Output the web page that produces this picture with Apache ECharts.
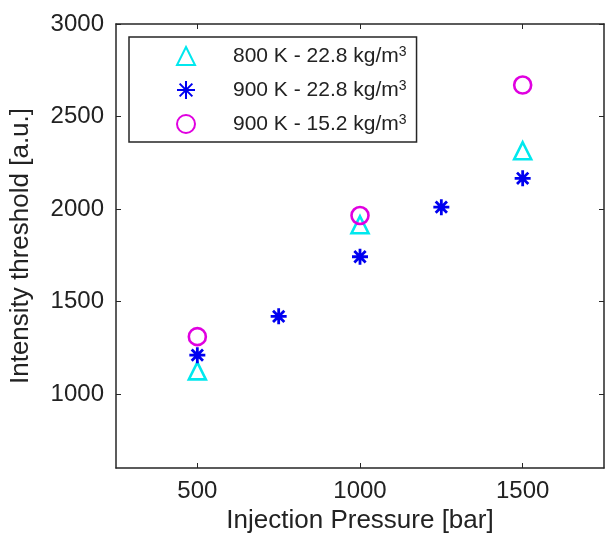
<!DOCTYPE html>
<html>
<head>
<meta charset="utf-8">
<script src="https://cdn.jsdelivr.net/npm/echarts@6/dist/echarts.min.js"></script>
<style>
  html, body { margin: 0; padding: 0; background: #fff; }
  #chart { width: 605px; height: 540px; }
</style>
</head>
<body>
<div id="chart"></div>
<script>
// Injection pressure [bar] vs. intensity threshold [a.u.]
const seriesNames = ['800 K - 22.8 kg/m3', '900 K - 22.8 kg/m3', '900 K - 15.2 kg/m3'];

const pressure800_228 = [500, 1000, 1500];
const threshold800_228 = [1125, 1915, 2315];

const pressure900_228 = [500, 750, 1000, 1250, 1500];
const threshold900_228 = [1210, 1420, 1742, 2010, 2166];

const pressure900_152 = [500, 1000, 1500];
const threshold900_152 = [1310, 1965, 2670];

const xTicks = [500, 1000, 1500];
const yTicks = [1000, 1500, 2000, 2500, 3000];

const pairs = (xs, ys) => xs.map((x, i) => [x, ys[i]]);

const FONT = '"Liberation Sans", Arial, sans-serif';
const AXIS_COLOR = '#262626';
const CYAN = '#00e8ee';
const BLUE = '#0000f0';
const MAGENTA = '#e000e0';
const ASTERISK = 'path://M0,-10L0,10M-10,0L10,0M-7.07,-7.07L7.07,7.07M-7.07,7.07L7.07,-7.07';

const grid = { left: 116, top: 24, width: 488, height: 444 };

const plainNumber = (v) => String(v);

const baseAxis = {
  type: 'value',
  axisLine: { show: true, lineStyle: { color: AXIS_COLOR, width: 1.5 } },
  splitLine: { show: false }
};

const chart = echarts.init(document.getElementById('chart'), null, { renderer: 'canvas' });

chart.setOption({
  animation: false,
  backgroundColor: '#ffffff',
  grid: grid,
  xAxis: [
    Object.assign({}, baseAxis, {
      position: 'bottom',
      min: 250, max: 1750,
      name: 'Injection Pressure [bar]',
      nameLocation: 'middle',
      nameGap: 40,
      nameTextStyle: { fontFamily: FONT, fontSize: 26, color: '#222' },
      axisTick: { show: true, inside: true, length: 5, customValues: xTicks, lineStyle: { color: AXIS_COLOR } },
      axisLabel: { show: true, customValues: xTicks, formatter: plainNumber, margin: 11, fontFamily: FONT, fontSize: 24, color: '#222' }
    }),
    Object.assign({}, baseAxis, {
      position: 'top',
      min: 250, max: 1750,
      axisTick: { show: true, inside: true, length: 5, customValues: xTicks, lineStyle: { color: AXIS_COLOR } },
      axisLabel: { show: false }
    })
  ],
  yAxis: [
    Object.assign({}, baseAxis, {
      position: 'left',
      min: 600, max: 3000,
      name: 'Intensity threshold [a.u.]',
      nameLocation: 'middle',
      nameGap: 82,
      nameTextStyle: { fontFamily: FONT, fontSize: 26, color: '#222' },
      axisTick: { show: true, inside: true, length: 5, customValues: yTicks, lineStyle: { color: AXIS_COLOR } },
      axisLabel: { show: true, customValues: yTicks, formatter: plainNumber, margin: 12, fontFamily: FONT, fontSize: 24, color: '#222' }
    }),
    Object.assign({}, baseAxis, {
      position: 'right',
      min: 600, max: 3000,
      axisTick: { show: true, inside: true, length: 5, customValues: yTicks, lineStyle: { color: AXIS_COLOR } },
      axisLabel: { show: false }
    })
  ],
  legend: {
    show: true,
    orient: 'vertical',
    left: 129,
    top: 37,
    padding: [8, 10, 7, 47],
    itemGap: 12,
    itemWidth: 18,
    itemHeight: 18,
    backgroundColor: '#ffffff',
    borderColor: AXIS_COLOR,
    borderWidth: 1.5,
    data: seriesNames,
    formatter: (name) => '{t|' + name.slice(0, -1) + '}{sup|3}',
    textStyle: {
      fontFamily: FONT,
      fontSize: 21,
      color: '#222',
      padding: [0, 0, 0, 33],
      rich: {
        t: { fontFamily: FONT, fontSize: 21, color: '#222', lineHeight: 22, verticalAlign: 'bottom' },
        sup: { fontFamily: FONT, fontSize: 14, color: '#222', lineHeight: 12, verticalAlign: 'top' }
      }
    }
  },
  series: [
    {
      name: seriesNames[0],
      type: 'scatter',
      data: pairs(pressure800_228, threshold800_228),
      symbol: 'triangle',
      symbolSize: 17,
      itemStyle: { color: 'rgba(255,255,255,0)', borderColor: CYAN, borderWidth: 2.6, opacity: 1 },
      z: 3
    },
    {
      name: seriesNames[1],
      type: 'scatter',
      data: pairs(pressure900_228, threshold900_228),
      symbol: ASTERISK,
      symbolSize: 16,
      itemStyle: { color: 'rgba(255,255,255,0)', borderColor: BLUE, borderWidth: 2.8, opacity: 1 },
      z: 4
    },
    {
      name: seriesNames[2],
      type: 'scatter',
      data: pairs(pressure900_152, threshold900_152),
      symbol: 'circle',
      symbolSize: 17,
      itemStyle: { color: 'rgba(255,255,255,0)', borderColor: MAGENTA, borderWidth: 2.6, opacity: 1 },
      z: 5
    }
  ]
});
</script>
</body>
</html>
